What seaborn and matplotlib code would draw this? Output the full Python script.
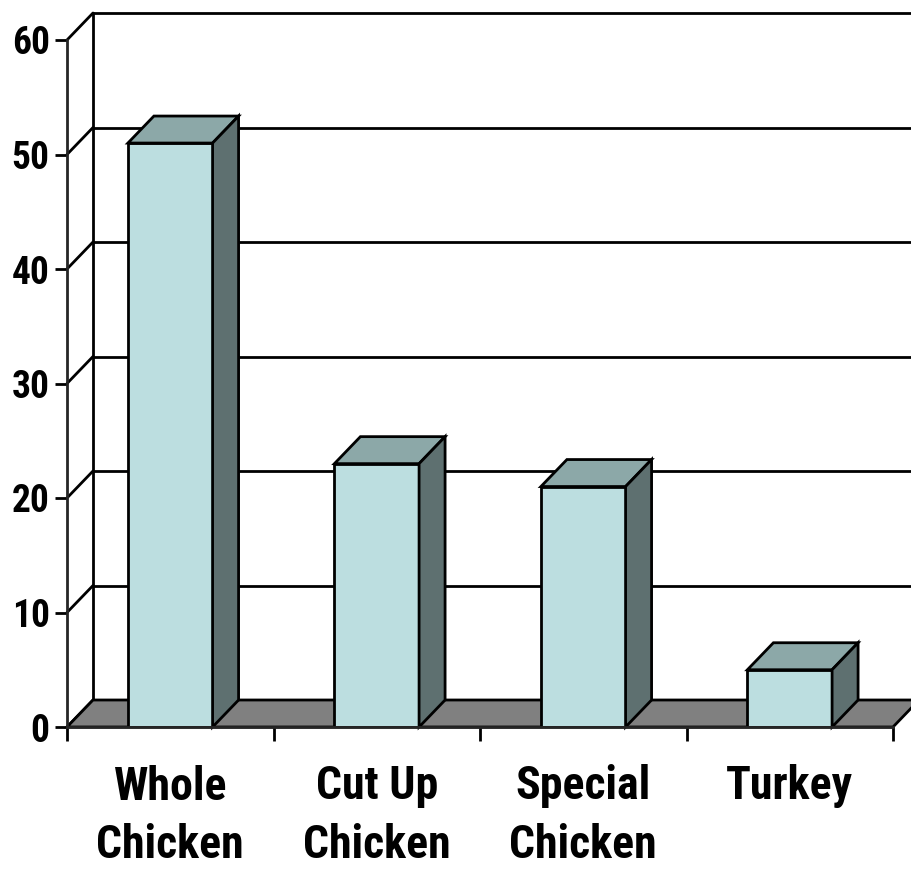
import matplotlib
matplotlib.use('Agg')
import matplotlib.pyplot as plt
from matplotlib.patches import Polygon
import seaborn as sns
import pandas as pd

# chart data
categories = ['Whole\nChicken', 'Cut Up\nChicken', 'Special\nChicken', 'Turkey']
values = [51, 23, 21, 5]
y_ticks = [0, 10, 20, 30, 40, 50, 60]

front_col = '#BCDEE0'
top_col = '#8CA8A8'
side_col = '#5E7070'
floor_col = '#808080'
lw = 2.0

sns.set_style('white', {'text.color': 'black', 'xtick.color': 'black',
                        'ytick.color': 'black', 'xtick.bottom': True, 'ytick.left': True})
plt.rcParams['font.family'] = ['Liberation Sans Narrow', 'Roboto Condensed',
                               'IBM Plex Sans Condensed', 'DejaVu Sans']

df = pd.DataFrame({'Category': categories, 'Value': values})

fig = plt.figure(figsize=(9.11, 8.69), dpi=100)
ax = fig.add_axes([67 / 911, 142 / 869, 826 / 911, 687 / 869])
ax.set_facecolor('none')

sns.barplot(data=df, x='Category', y='Value', color=front_col, saturation=1,
            width=0.41, edgecolor='black', linewidth=lw, ax=ax)

ax.set_xlim(-0.5, 3.5)
ax.set_ylim(0, 60)

# depth offset of the 3d look (data units)
ox, oy = 26 / 206.5, 27 / 11.45
x0, x1 = -0.5, 3.5

# back wall and left wall gridlines
for v in y_ticks:
    ax.plot([x0 + ox, x1 + ox], [v + oy, v + oy], color='black', lw=lw,
            clip_on=False, zorder=0.5)
    ax.plot([x0, x0 + ox], [v, v + oy], color='black', lw=lw,
            clip_on=False, zorder=0.5)
ax.plot([x0 + ox, x0 + ox], [oy, 60 + oy], color='black', lw=lw,
        clip_on=False, zorder=0.5)

# floor
floor = Polygon([(x0, 0), (x1, 0), (x1 + ox, oy), (x0 + ox, oy)], closed=True,
                facecolor=floor_col, edgecolor='black', lw=lw, clip_on=False, zorder=1)
ax.add_patch(floor)

# top and side faces of each bar
for p in list(ax.patches):
    if p is floor:
        continue
    p.set_zorder(3)
    p.set_joinstyle('miter')
    bx, w, h = p.get_x(), p.get_width(), p.get_height()
    top = Polygon([(bx, h), (bx + w, h), (bx + w + ox, h + oy), (bx + ox, h + oy)],
                  closed=True, facecolor=top_col, edgecolor='black', lw=lw,
                  joinstyle='miter', clip_on=False, zorder=3)
    side = Polygon([(bx + w, 0), (bx + w + ox, oy), (bx + w + ox, h + oy), (bx + w, h)],
                   closed=True, facecolor=side_col, edgecolor='black', lw=lw,
                   joinstyle='miter', clip_on=False, zorder=3)
    ax.add_patch(top)
    ax.add_patch(side)

# axes and ticks
for s in ['top', 'right']:
    ax.spines[s].set_visible(False)
for s in ['left', 'bottom']:
    ax.spines[s].set_linewidth(lw)
    ax.spines[s].set_zorder(4)

ax.set_yticks(y_ticks)
ax.set_yticklabels([str(v) for v in y_ticks], fontsize=27, fontweight='bold')
ax.tick_params(axis='y', left=True, length=9, width=lw, pad=3.5)

ax.set_xticks(range(len(categories)))
ax.set_xticklabels(categories, fontsize=33, fontweight='bold', linespacing=1.42)
ax.tick_params(axis='x', which='major', bottom=True, length=0, pad=27)
ax.set_xticks([-0.5, 0.5, 1.5, 2.5, 3.5], minor=True)
ax.tick_params(axis='x', which='minor', bottom=True, length=10, width=lw)

ax.set_xlabel('')
ax.set_ylabel('')

fig.savefig('out.png', dpi=100)
